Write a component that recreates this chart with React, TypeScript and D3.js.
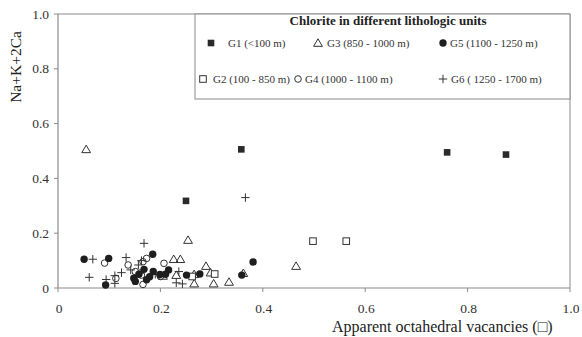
import React from "react";
import * as d3 from "d3";

type P = [number, number];

const g1: P[] = [[0.25, 0.318], [0.358, 0.506], [0.76, 0.495], [0.875, 0.487]];
const g2: P[] = [[0.262, 0.042], [0.306, 0.051], [0.498, 0.171], [0.563, 0.171]];
const g3: P[] = [
  [0.055, 0.506], [0.254, 0.175], [0.226, 0.105], [0.239, 0.105], [0.289, 0.08],
  [0.298, 0.056], [0.266, 0.05], [0.266, 0.016], [0.304, 0.016], [0.334, 0.022],
  [0.465, 0.08], [0.362, 0.054], [0.231, 0.047], [0.205, 0.044],
];
const g4: P[] = [
  [0.091, 0.091], [0.113, 0.035], [0.137, 0.084], [0.163, 0.047], [0.166, 0.096],
  [0.173, 0.108], [0.207, 0.09], [0.166, 0.013], [0.2, 0.042], [0.151, 0.06],
];
const g5: P[] = [
  [0.051, 0.105], [0.099, 0.108], [0.093, 0.011], [0.185, 0.123], [0.168, 0.068],
  [0.148, 0.036], [0.151, 0.024], [0.173, 0.03], [0.179, 0.041], [0.186, 0.06],
  [0.199, 0.049], [0.216, 0.066], [0.251, 0.047], [0.277, 0.051], [0.359, 0.047],
  [0.381, 0.095], [0.158, 0.05], [0.21, 0.05],
];
const g6: P[] = [
  [0.068, 0.105], [0.061, 0.039], [0.094, 0.031], [0.111, 0.017], [0.124, 0.056],
  [0.133, 0.111], [0.142, 0.066], [0.168, 0.163], [0.157, 0.084], [0.163, 0.1],
  [0.16, 0.054], [0.231, 0.019], [0.243, 0.015], [0.366, 0.33], [0.236, 0.06],
  [0.111, 0.045], [0.19, 0.05],
];

const xTicks = [0, 0.2, 0.4, 0.6, 0.8, 1.0];
const yTicks = [0, 0.2, 0.4, 0.6, 0.8, 1.0];
const legendItems = [
  { key: "g1", label: "G1 (<100 m)" },
  { key: "g3", label: "G3 (850 - 1000 m)" },
  { key: "g5", label: "G5 (1100 - 1250 m)" },
  { key: "g2", label: "G2 (100 - 850 m)" },
  { key: "g4", label: "G4 (1000 - 1100 m)" },
  { key: "g6", label: "G6 ( 1250 - 1700 m)" },
];

const FONT = '"Liberation Serif", "Times New Roman", Times, serif';
const INK = "#222";

function Marker({ kind, x, y }: { kind: string; x: number; y: number }) {
  switch (kind) {
    case "g1":
      return <rect x={x - 3.3} y={y - 3.3} width={6.6} height={6.6} fill="#2a2a2a" />;
    case "g2":
      return <rect x={x - 3.3} y={y - 3.3} width={6.6} height={6.6} fill="white" stroke="#333" strokeWidth={1} />;
    case "g3":
      return (
        <path
          d={`M${x},${y - 4.2}L${x + 4.4},${y + 3.3}L${x - 4.4},${y + 3.3}Z`}
          fill="none"
          stroke="#333"
          strokeWidth={1}
        />
      );
    case "g4":
      return <circle cx={x} cy={y} r={3.3} fill="none" stroke="#333" strokeWidth={1} />;
    case "g5":
      return <circle cx={x} cy={y} r={3.7} fill="#1e1e1e" />;
    default:
      return (
        <path d={`M${x - 4.2},${y}H${x + 4.2}M${x},${y - 4.2}V${y + 4.2}`} stroke="#333" strokeWidth={1} />
      );
  }
}

export default function App() {
  const W = 582;
  const H = 337;
  const x = d3.scaleLinear().domain([0, 1]).range([58, 570]);
  const y = d3.scaleLinear().domain([0, 1]).range([288, 14]);
  const series: [string, P[]][] = [
    ["g3", g3],
    ["g2", g2],
    ["g4", g4],
    ["g6", g6],
    ["g5", g5],
    ["g1", g1],
  ];
  const legendPos = [
    { mx: 211, tx: 228, y: 43 },
    { mx: 318, tx: 327, y: 43 },
    { mx: 443, tx: 450, y: 43 },
    { mx: 203, tx: 213, y: 79 },
    { mx: 298, tx: 305, y: 79 },
    { mx: 443, tx: 451, y: 79 },
  ];
  const fmt = (t: number) => (t === 0 ? "0" : d3.format(".1f")(t));
  return (
    <svg
      width={W}
      height={H}
      style={{ position: "absolute", left: 0, top: 0, background: "white", fontFamily: FONT }}
    >
      <rect x={0} y={0} width={W} height={H} fill="white" />
      <path d={`M${x(0)},${y(1)}H${x(1)}V${y(0)}`} fill="none" stroke="#8a8a8a" strokeWidth={1} />
      <line x1={x(0)} x2={x(0)} y1={y(1)} y2={y(0)} stroke="#8a8a8a" strokeWidth={1.2} />
      <line x1={x(0)} x2={x(1)} y1={y(0)} y2={y(0)} stroke="#8a8a8a" strokeWidth={1.2} />
      {yTicks.map((t) => (
        <g key={"y" + t}>
          <line x1={x(0) - 4} x2={x(0)} y1={y(t)} y2={y(t)} stroke="#8a8a8a" />
          <text x={49} y={y(t) + 4.5} textAnchor="end" fontSize={13.5} fill="#333">
            {fmt(t)}
          </text>
        </g>
      ))}
      {xTicks.map((t) => (
        <g key={"x" + t}>
          <line x1={x(t)} x2={x(t)} y1={y(0)} y2={y(0) + 4} stroke="#8a8a8a" />
          <text x={x(t) + 1} y={313} textAnchor="middle" fontSize={13.5} fill="#333">
            {fmt(t)}
          </text>
        </g>
      ))}
      <text transform="translate(21,67) rotate(-90)" textAnchor="middle" fontSize={15.5} fill="#222">
        Na+K+2Ca
      </text>
      <text x={332} y={332} fontSize={16} fill="#222">
        Apparent octahedral vacancies (□)
      </text>
      {series.map(([k, pts]) =>
        pts.map((p, i) => <Marker key={k + i} kind={k} x={x(p[0])} y={y(p[1])} />)
      )}
      <rect x={195} y={14} width={375} height={85} fill="white" stroke="#8a8a8a" strokeWidth={1} />
      <text x={388} y={25} textAnchor="middle" fontSize={13} fontWeight="bold" fill={INK}>
        Chlorite in different lithologic units
      </text>
      {legendItems.map((it, i) => (
        <g key={it.key}>
          <Marker kind={it.key} x={legendPos[i].mx} y={legendPos[i].y} />
          <text x={legendPos[i].tx} y={legendPos[i].y + 4} fontSize={11} fill="#333">
            {it.label}
          </text>
        </g>
      ))}
    </svg>
  );
}
